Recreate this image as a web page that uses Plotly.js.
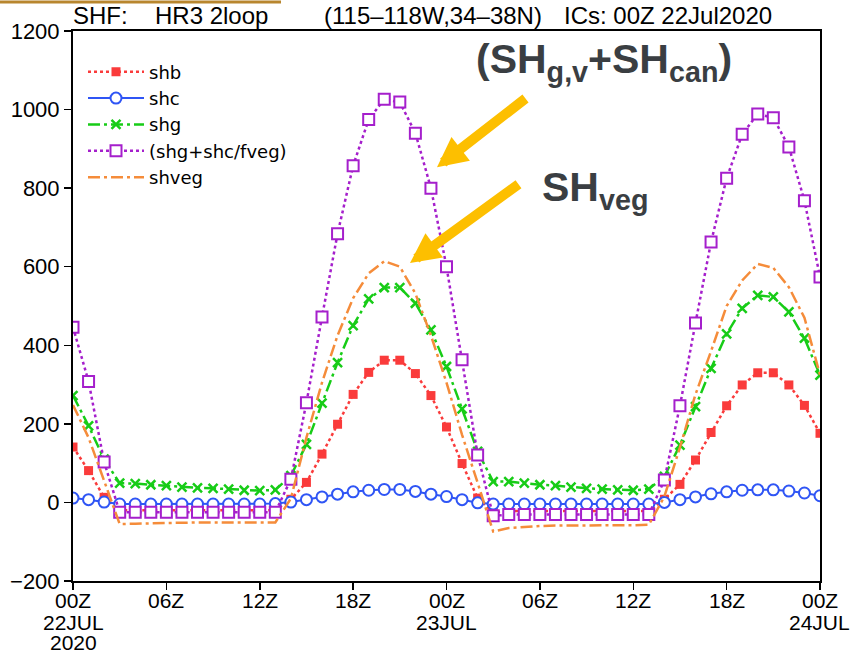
<!DOCTYPE html>
<html>
<head>
<meta charset="utf-8">
<script src="https://cdn.plot.ly/plotly-3.0.1.min.js"></script>
<style>
  html, body { margin: 0; padding: 0; background: #ffffff; }
  #chart { width: 850px; height: 653px; }
</style>
</head>
<body>
<div id="chart"></div>
<script>
// Hourly sensible heat flux components, 00Z 22 Jul 2020 to 00Z 24 Jul 2020 (W m-2)
const hours = [0,1,2,3,4,5,6,7,8,9,10,11,12,13,14,15,16,17,18,19,20,21,22,23,24,
               25,26,27,28,29,30,31,32,33,34,35,36,37,38,39,40,41,42,43,44,45,46,47,48];

const shb = [141,81,13,-20,-20,-20,-20,-20,-20,-20,-20,-20,-20,-20,8,51,123,199,275,331,362,362,328,272,192,
             99,11,-25,-22,-22,-22,-22,-22,-22,-22,-22,-22,-22,8,46,108,178,246,299,330,330,299,247,176];

const shc = [11,7,1,-4,-4,-4,-4,-4,-4,-4,-4,-4,-4,-3,1,7,14,21,27,31,33,33,28,21,15,
             7,-1,-4,-4,-4,-4,-4,-4,-4,-4,-4,-4,-4,0,7,14,22,27,31,32,32,29,24,17];

const shg = [272,195,110,49,48,45,43,39,37,36,34,31,30,32,68,148,253,356,450,518,547,547,507,439,346,
             238,130,53,53,49,45,43,39,36,34,32,31,34,66,146,244,341,429,494,527,523,485,418,324];

const shgPlusShc = [446,308,103,-25,-25,-25,-25,-25,-25,-25,-25,-25,-25,-25,59,254,472,684,857,975,1026,1019,940,800,600,
                    363,121,-34,-31,-31,-31,-31,-31,-31,-31,-31,-31,-31,57,246,457,663,825,937,989,979,905,768,574];

const shveg = [248,165,55,-55,-54,-53,-52,-52,-51,-51,-51,-51,-51,-51,10,165,305,425,520,583,614,600,532,425,305,
               172,50,-74,-65,-62,-60,-59,-59,-58,-58,-58,-58,-57,15,140,275,385,500,565,607,597,548,470,325];

const seriesNames = ['shb', 'shc', 'shg', '(shg+shc/fveg)', 'shveg'];

const tickHours = [0, 6, 12, 18, 24, 30, 36, 42, 48];
const tickText  = ['00Z', '06Z', '12Z', '18Z', '00Z', '06Z', '12Z', '18Z', '00Z'];
const dateLabels = [
  { hour: 0,  lines: ['22JUL', '2020'] },
  { hour: 24, lines: ['23JUL'] },
  { hour: 48, lines: ['24JUL'] }
];

const yTicks = [-200, 0, 200, 400, 600, 800, 1000, 1200];

const headerParts = ['SHF:', 'HR3 2loop', '(115–118W,34–38N)', 'ICs: 00Z 22Jul2020'];

// plot frame in page pixels
const L = 73, R = 820, T = 30.5, B = 581.4;
const W = 850, H = 653;
const px = x => (x - L) / (R - L);
const py = y => (B - y) / (B - T);

const axisFont = { family: 'Liberation Sans, Arial, sans-serif', size: 22, color: '#000' };
const xLabelFont = { family: 'Liberation Sans, Arial, sans-serif', size: 21, color: '#000' };
const headerFont = { family: 'Liberation Sans, Arial, sans-serif', size: 24, color: '#000' };

const traces = [
  {
    x: hours, y: shb, name: seriesNames[0], mode: 'lines+markers',
    line: { color: '#FA3B3B', width: 2.5, dash: 'dot' },
    marker: { symbol: 'square', size: 9, color: '#FA3B3B' }
  },
  {
    x: hours, y: shc, name: seriesNames[1], mode: 'lines+markers',
    line: { color: '#2F55F5', width: 2 },
    marker: { symbol: 'circle', size: 11, color: '#ffffff', line: { color: '#2F55F5', width: 2 } }
  },
  {
    x: hours, y: shg, name: seriesNames[2], mode: 'lines+markers',
    line: { color: '#17CC17', width: 2.5, dash: '12px,4px,3px,4px' },
    marker: { symbol: 'x-thin', size: 9, color: '#17CC17', line: { color: '#17CC17', width: 2.5 } }
  },
  {
    x: hours, y: shgPlusShc, name: seriesNames[3], mode: 'lines+markers',
    line: { color: '#A51FCC', width: 2.5, dash: 'dot' },
    marker: { symbol: 'square', size: 11, color: '#ffffff', line: { color: '#A51FCC', width: 2 } }
  },
  {
    x: hours, y: shveg, name: seriesNames[4], mode: 'lines',
    line: { color: '#F58C3A', width: 2.5, dash: '12px,4px,3px,4px' }
  }
];

const annotations = [];

// header line
[70.6, 153, 321.5, 562].forEach((x, i) => annotations.push({
  text: headerParts[i], xref: 'paper', yref: 'paper', x: px(x), y: py(15),
  xanchor: 'left', yanchor: 'middle', showarrow: false, font: headerFont
}));

// hour labels and date lines under the x ticks
tickHours.forEach((h, i) => annotations.push({
  text: tickText[i], xref: 'x', yref: 'paper', x: h, y: py(601),
  xanchor: 'center', yanchor: 'middle', showarrow: false, font: xLabelFont
}));
dateLabels.forEach(d => d.lines.forEach((t, i) => annotations.push({
  text: t, xref: 'x', yref: 'paper', x: d.hour, y: py(622.5 + 20.5 * i),
  xanchor: 'center', yanchor: 'middle', showarrow: false, font: xLabelFont,
  xshift: d.hour === 48 ? -1 : 0
})));

// callout labels and arrows
const calloutFont = { family: 'Liberation Sans, Arial, sans-serif', size: 41, color: '#3A3E42', weight: 'bold' };
annotations.push({
  text: '<b>(SH<sub>g,v</sub>+SH<sub>can</sub>)</b>', xref: 'paper', yref: 'paper',
  x: px(474), y: py(62), xanchor: 'left', yanchor: 'middle', showarrow: false, font: calloutFont
});
annotations.push({
  text: '<b>SH<sub>veg</sub></b>', xref: 'paper', yref: 'paper',
  x: px(540), y: py(190), xanchor: 'left', yanchor: 'middle', showarrow: false, font: calloutFont
});
const arrowStyle = { showarrow: true, arrowcolor: '#FDBF00', arrowwidth: 10, arrowhead: 2, arrowsize: 0.6, text: '' };
annotations.push(Object.assign({ xref: 'paper', yref: 'paper', x: px(437), y: py(167), ax: 90, ay: -70 }, arrowStyle));
annotations.push(Object.assign({ xref: 'paper', yref: 'paper', x: px(410), y: py(263), ax: 110, ay: -80 }, arrowStyle));

const layout = {
  width: W, height: H,
  margin: { l: L, r: W - R, t: T, b: H - B, pad: 0 },
  paper_bgcolor: '#ffffff', plot_bgcolor: '#ffffff',
  showlegend: true,
  legend: {
    x: px(83), y: py(53), xanchor: 'left', yanchor: 'top',
    bgcolor: 'rgba(0,0,0,0)', borderwidth: 0,
    font: { family: 'DejaVu Sans, sans-serif', size: 18, color: '#000' },
    itemwidth: 56, tracegroupgap: 0
  },
  xaxis: {
    range: [0, 48], tickmode: 'array', tickvals: tickHours, showticklabels: false,
    ticks: 'outside', ticklen: 7, tickwidth: 1.5, tickcolor: '#000',
    showline: true, linecolor: '#000', linewidth: 2, mirror: true,
    showgrid: false, zeroline: false, fixedrange: true
  },
  yaxis: {
    range: [-200, 1200], tickmode: 'array', tickvals: yTicks,
    ticks: 'outside', ticklen: 7, tickwidth: 1.5, tickcolor: '#000',
    showline: true, linecolor: '#000', linewidth: 2, mirror: true,
    showgrid: false, zeroline: false, tickfont: axisFont, fixedrange: true
  },
  shapes: [{
    type: 'rect', xref: 'paper', yref: 'paper',
    x0: px(0), x1: px(281), y0: py(3), y1: py(0),
    fillcolor: '#B8862E', line: { width: 0 }
  }],
  annotations: annotations
};

Plotly.newPlot('chart', traces, layout, { staticPlot: true, displayModeBar: false });
</script>
</body>
</html>
